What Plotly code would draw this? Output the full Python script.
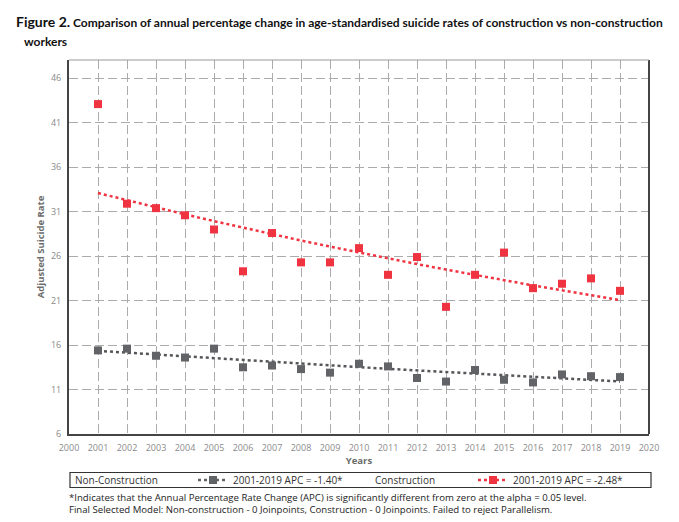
import plotly.graph_objects as go

years = list(range(2001, 2020))
construction = [43.1, 31.9, 31.4, 30.6, 29.0, 24.3, 28.6, 25.3, 25.3, 26.9,
                23.9, 25.9, 20.3, 23.9, 26.4, 22.4, 22.9, 23.5, 22.1]
non_construction = [15.4, 15.6, 14.8, 14.6, 15.6, 13.5, 13.7, 13.3, 12.9, 13.9,
                    13.6, 12.3, 11.9, 13.2, 12.1, 11.8, 12.7, 12.5, 12.4]
construction_trend = [33.10, 32.28, 31.48, 30.70, 29.94, 29.19, 28.47, 27.76, 27.08, 26.40,
                      25.75, 25.11, 24.49, 23.88, 23.29, 22.71, 22.15, 21.60, 21.06]
non_construction_trend = [15.35, 15.14, 14.92, 14.71, 14.51, 14.31, 14.10, 13.91, 13.71, 13.52,
                          13.33, 13.14, 12.96, 12.78, 12.60, 12.42, 12.25, 12.08, 11.91]
y_ticks = [6, 11, 16, 21, 26, 31, 36, 41, 46]
x_ticks = list(range(2000, 2021))

RED = "#EF3340"
GREY = "#626366"
FONT = "Open Sans"

fig = go.Figure()

# trend lines
fig.add_trace(go.Scatter(x=years, y=non_construction_trend, mode="lines",
                         line=dict(color="#55565a", width=2.5, dash="dot"), showlegend=False, hoverinfo="skip"))
fig.add_trace(go.Scatter(x=years, y=construction_trend, mode="lines",
                         line=dict(color=RED, width=2.5, dash="dot"), showlegend=False, hoverinfo="skip"))
# data points
fig.add_trace(go.Scatter(x=years, y=non_construction, mode="markers", name="Non-Construction",
                         marker=dict(symbol="square", size=8, color=GREY), showlegend=False))
fig.add_trace(go.Scatter(x=years, y=construction, mode="markers", name="Construction",
                         marker=dict(symbol="square", size=8, color=RED), showlegend=False))

# legend entries
fig.add_trace(go.Scatter(x=[None], y=[None], mode="none", name="Non-Construction", legend="legend"))
fig.add_trace(go.Scatter(x=[None], y=[None], mode="lines+markers", name="2001-2019 APC = -1.40*",
                         line=dict(color=GREY, width=2.5, dash="dot"),
                         marker=dict(symbol="square", size=8, color=GREY), legend="legend2"))
fig.add_trace(go.Scatter(x=[None], y=[None], mode="none", name="Construction", legend="legend3"))
fig.add_trace(go.Scatter(x=[None], y=[None], mode="lines+markers", name="2001-2019 APC = -2.48*",
                         line=dict(color=RED, width=2.5, dash="dot"),
                         marker=dict(symbol="square", size=8, color=RED), legend="legend4"))

W, L, R, T, B = 679, 69, 30, 60, 88
PW = W - L - R
PH = 522 - T - B

def lx(px):
    return (px - L) / PW

def ly(py):
    return (434 - py) / PH

leg_common = dict(orientation="h", yanchor="middle", xanchor="left", y=ly(480),
                  bgcolor="rgba(0,0,0,0)", font=dict(family=FONT, size=10, color="#333"),
                  itemclick=False, itemdoubleclick=False)

fig.update_layout(
    width=W, height=522,
    margin=dict(l=L, r=R, t=T, b=B),
    paper_bgcolor="white", plot_bgcolor="white",
    font=dict(family=FONT),
    showlegend=True,
    legend=dict(x=lx(75 - 40), **leg_common),
    legend2=dict(x=lx(233 - 40), **leg_common),
    legend3=dict(x=lx(375 - 40), **leg_common),
    legend4=dict(x=lx(513 - 40), **leg_common),
    xaxis=dict(range=[2000, 2020], tickvals=x_ticks, ticktext=[str(v) for v in x_ticks],
               showgrid=True, gridcolor="#ababab", griddash="9px,4px", gridwidth=1.2,
               showline=True, linecolor="#444", linewidth=2, zeroline=False,
               ticks="", ticklabelstandoff=4, tickfont=dict(family=FONT, size=9, color="#8a8a8a"),
               title=dict(text="<b>Years</b>", font=dict(family=FONT, size=9.5, color="#6b6b6b"),
                          standoff=5)),
    yaxis=dict(range=[6, 48.06], tickvals=y_ticks, ticktext=[str(v) for v in y_ticks],
               showgrid=True, gridcolor="#ababab", griddash="9px,4px", gridwidth=1.2,
               showline=True, linecolor="#444", linewidth=2, zeroline=False,
               ticks="", ticklabelstandoff=4, tickfont=dict(family=FONT, size=9, color="#8a8a8a"),
               title=dict(text="<b>Adjusted Suicide Rate</b>", font=dict(family=FONT, size=9.5, color="#6b6b6b"),
                          standoff=5)),
)

# frame: right (dark) and top (light)
fig.add_shape(type="line", xref="paper", yref="paper", x0=1, x1=1, y0=0, y1=1,
              line=dict(color="#444", width=2))
fig.add_shape(type="line", xref="paper", yref="paper", x0=0, x1=1, y0=1, y1=1,
              line=dict(color="#999", width=1))
# legend box
fig.add_shape(type="rect", xref="paper", yref="paper", x0=lx(70), x1=lx(651),
              y0=ly(487.5), y1=ly(472.5),
              line=dict(color="#333", width=1.2), fillcolor="rgba(0,0,0,0)")

# title
fig.add_annotation(xref="paper", yref="paper", x=lx(14), y=ly(21), xanchor="left", yanchor="middle",
                   showarrow=False, align="left",
                   text="<b><span style='font-size:14px'>Figure 2.</span> "
                        "Comparison of annual percentage change in age-standardised suicide rates of construction vs non-construction</b>",
                   font=dict(family="Lato", size=12, color="#111"))
fig.add_annotation(xref="paper", yref="paper", x=lx(22), y=ly(41), xanchor="left", yanchor="middle",
                   showarrow=False, align="left", text="<b>workers</b>",
                   font=dict(family="Lato", size=12, color="#111"))
# footnotes
fig.add_annotation(xref="paper", yref="paper", x=lx(67), y=ly(503), xanchor="left", yanchor="middle",
                   showarrow=False, align="left",
                   text="*Indicates that the Annual Percentage Rate Change (APC) is significantly different from zero at the alpha = 0.05 level."
                        "<br>Final Selected Model: Non-construction - 0 Joinpoints, Construction - 0 Joinpoints. Failed to reject Parallelism.",
                   font=dict(family=FONT, size=9.6, color="#222"))

fig.write_html("out.html", config={"displayModeBar": False},
               post_script="document.body.style.margin='0';document.body.style.padding='0';")
